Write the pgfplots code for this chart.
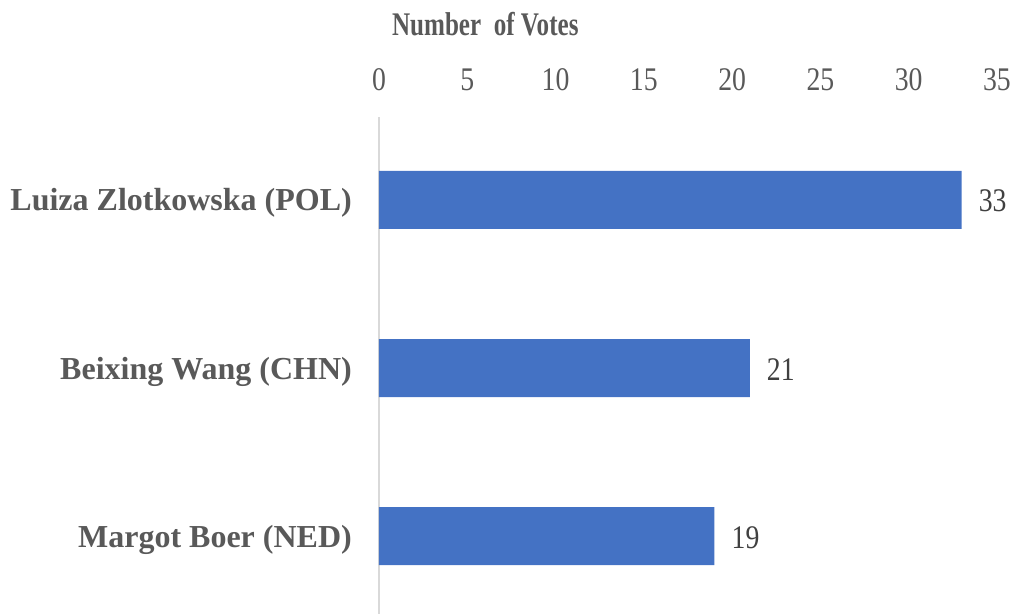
\documentclass[border=0pt]{standalone}
\usepackage{fontspec}
\setmainfont{Liberation Serif}
\newfontfamily\condfont{Liberation Serif}[FakeStretch=0.84]
\newfontfamily\titlefont{Liberation Serif}[FakeStretch=0.76]
\usepackage{pgfplots}
\pgfplotsset{compat=1.18}
\definecolor{barblue}{HTML}{4472C4}
\definecolor{lblgray}{HTML}{595959}
\definecolor{axgray}{HTML}{D9D9D9}
\definecolor{datgray}{HTML}{404040}
\begin{document}
\begin{tikzpicture}
\begin{axis}[
 at={(0,0)}, anchor=south west,
 scale only axis, width=618bp, height=497bp,
 xbar, bar width=58bp,
 xmin=0, xmax=35, ymin=-0.464, ymax=2.494,
 xtick={0,5,...,35},
 ytick={0,1,2},
 yticklabels={Margot Boer (NED), Beixing Wang (CHN), Luiza Zlotkowska (POL)},
 axis x line*=top, axis y line*=left,
 x axis line style={draw=none},
 y axis line style={draw=axgray, line width=1.5bp},
 major tick length=0pt,
 /pgf/number format/assume math mode=true,
 xticklabel style={font=\fontsize{33bp}{37bp}\condfont, text=lblgray, anchor=base, yshift=26bp, inner sep=0pt},
 yticklabel style={font=\fontsize{32bp}{36bp}\selectfont\bfseries, text=lblgray, anchor=base east, xshift=-27bp, yshift=-11bp, inner sep=0pt},
 title={Number\ \ of Votes},
 title style={at={(axis description cs:0.172,1)}, anchor=base, yshift=76bp, inner sep=0pt, font=\fontsize{33bp}{37bp}\titlefont\bfseries, text=lblgray},
 nodes near coords,
 nodes near coords style={font=\fontsize{33bp}{37bp}\condfont, text=datgray, anchor=base west, xshift=17bp, yshift=-12bp, inner sep=0pt},
 clip=false,
]
\addplot[fill=barblue, draw=none] coordinates {(19,0) (21,1) (33,2)};
\end{axis}
\pgfresetboundingbox
\useasboundingbox (-379bp,0) rectangle (637bp,614bp);
\end{tikzpicture}
\end{document}
